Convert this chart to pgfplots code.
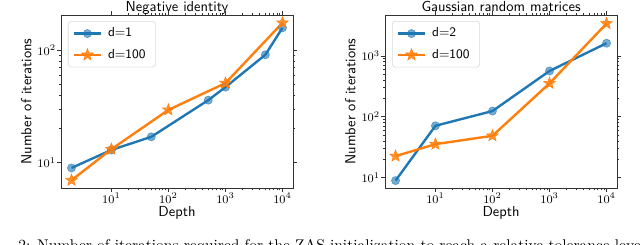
\documentclass[border=0pt]{standalone}
\usepackage{pgfplots}
\pgfplotsset{compat=1.18}
\definecolor{tabblue}{HTML}{1F77B4}
\definecolor{taborange}{HTML}{FF7F0E}
\pgfdeclareplotmark{fstar}{%
  \pgfpathmoveto{\pgfpointpolar{90}{\pgfplotmarksize}}%
  \pgfpathlineto{\pgfpointpolar{126}{0.42\pgfplotmarksize}}%
  \pgfpathlineto{\pgfpointpolar{162}{\pgfplotmarksize}}%
  \pgfpathlineto{\pgfpointpolar{198}{0.42\pgfplotmarksize}}%
  \pgfpathlineto{\pgfpointpolar{234}{\pgfplotmarksize}}%
  \pgfpathlineto{\pgfpointpolar{270}{0.42\pgfplotmarksize}}%
  \pgfpathlineto{\pgfpointpolar{306}{\pgfplotmarksize}}%
  \pgfpathlineto{\pgfpointpolar{342}{0.42\pgfplotmarksize}}%
  \pgfpathlineto{\pgfpointpolar{18}{\pgfplotmarksize}}%
  \pgfpathlineto{\pgfpointpolar{54}{0.42\pgfplotmarksize}}%
  \pgfpathclose
  \pgfusepathqfillstroke}
\tikzset{
  sblue/.style={tabblue, line width=1.65pt, mark=*, mark size=2.8pt, mark options={fill=tabblue, fill opacity=0.6, draw opacity=0.6, line width=0.5pt}},
  sorange/.style={taborange, line width=1.65pt, mark=fstar, mark size=4.2pt, mark options={fill=taborange, fill opacity=0.85, line width=0.4pt}},
}
\begin{document}
\begin{tikzpicture}
\useasboundingbox (0,0) rectangle (441.6pt,168.4pt);
\begin{axis}[at={(42.1pt,38.6pt)},
    anchor=south west, width=160.1pt, height=119.4pt, scale only axis,
    xmode=log, ymode=log,
    xmin=1.31, xmax=15300, ymin=5.96, ymax=205,
    axis line style={black!80, line width=0.6pt},
    tick align=outside,
    major tick length=2.6pt, minor tick length=1.6pt,
    every tick/.style={black!80, line width=0.55pt},
    tick label style={font=\footnotesize, inner sep=0.8pt},
    label style={font=\normalsize\sffamily},
    title style={font=\normalsize\sffamily, at={(axis description cs:0.5,1)}, anchor=base, yshift=-3.4pt},
    xlabel style={at={(axis description cs:0.5,0)}, anchor=base, yshift=-19.8pt},
    ylabel style={at={(axis description cs:-0.128,0.5)}, anchor=base},
    xtick={10,100,1000,10000}, ytick={10,100},
    legend style={font=\small\sffamily, draw=black!15, rounded corners=2pt,
      at={(0.03,0.965)}, anchor=north west, inner xsep=3pt, inner ysep=2.5pt, row sep=3pt,
      nodes={inner xsep=4pt}},
    legend cell align=left,
    legend image code/.code={\draw[mark repeat=2,mark phase=2] plot coordinates {(0cm,0cm)(0.33cm,0cm)(0.66cm,0cm)};},
    xlabel={Depth}, ylabel={Number of iterations}, title={Negative identity}]
\addplot[sblue] coordinates {(2,9) (10,13) (50,17) (500,36) (1000,47) (5000,91) (10000,158)};
\addlegendentry{d=1}
\addplot[sorange] coordinates {(2,7) (10,13.2) (100,29.5) (1000,51) (10000,175)};
\addlegendentry{d=100}
\end{axis}
\begin{axis}[at={(265.7pt,38.6pt)},
    anchor=south west, width=160.1pt, height=119.4pt, scale only axis,
    xmode=log, ymode=log,
    xmin=1.31, xmax=15300, ymin=6.7, ymax=4700,
    axis line style={black!80, line width=0.6pt},
    tick align=outside,
    major tick length=2.6pt, minor tick length=1.6pt,
    every tick/.style={black!80, line width=0.55pt},
    tick label style={font=\footnotesize, inner sep=0.8pt},
    label style={font=\normalsize\sffamily},
    title style={font=\normalsize\sffamily, at={(axis description cs:0.5,1)}, anchor=base, yshift=-3.4pt},
    xlabel style={at={(axis description cs:0.5,0)}, anchor=base, yshift=-19.8pt},
    ylabel style={at={(axis description cs:-0.128,0.5)}, anchor=base},
    xtick={10,100,1000,10000}, ytick={10,100,1000},
    legend style={font=\small\sffamily, draw=black!15, rounded corners=2pt,
      at={(0.03,0.965)}, anchor=north west, inner xsep=3pt, inner ysep=2.5pt, row sep=3pt,
      nodes={inner xsep=4pt}},
    legend cell align=left,
    legend image code/.code={\draw[mark repeat=2,mark phase=2] plot coordinates {(0cm,0cm)(0.33cm,0cm)(0.66cm,0cm)};},
    xlabel={Depth}, ylabel={Number of iterations}, title={Gaussian random matrices}]
\addplot[sblue] coordinates {(2,8.9) (10,71) (100,124) (1000,566) (10000,1618)};
\addlegendentry{d=2}
\addplot[sorange] coordinates {(2,22.5) (10,35.4) (100,48.6) (1000,354) (10000,3412)};
\addlegendentry{d=100}
\end{axis}
\node[anchor=base west, inner sep=0pt, font=\normalsize, scale=1.07] at (12.4pt,-4.5pt) {2: Number of iterations required for the ZAS initialization to reach a relative tolerance level};
\end{tikzpicture}
\end{document}
